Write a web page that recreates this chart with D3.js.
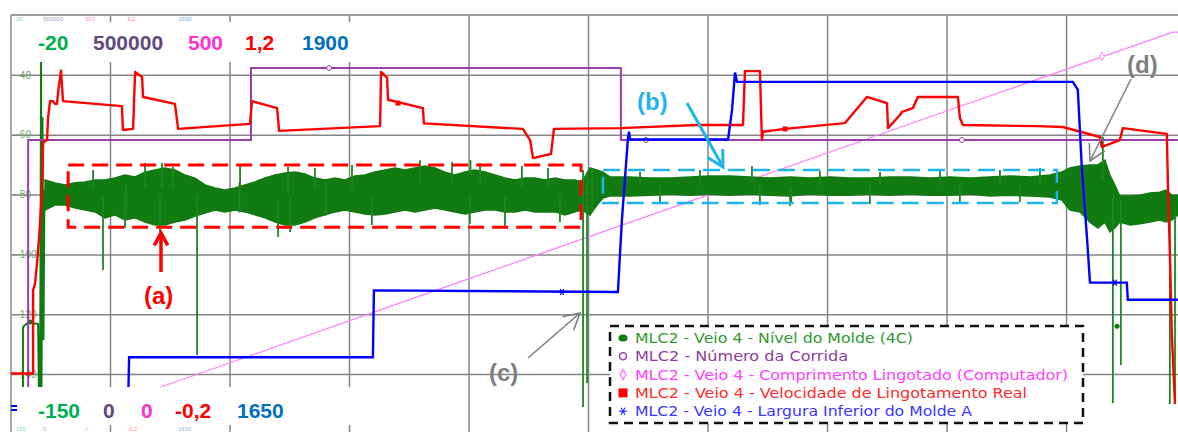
<!DOCTYPE html>
<html>
<head>
<meta charset="utf-8">
<script src="https://cdn.jsdelivr.net/npm/d3@7"></script>
<style>
body { margin: 0; background: #fff; }
svg { display: block; }
</style>
</head>
<body>
<div id="chart"></div>
<script>
// time in minutes, values in each series' own units
const xTicks = [60, 120, 180, 240, 300, 360, 420, 480, 540];
const levelTicks = [-40, -60, -80, -100, -120, -140];

const topLabels = ["-20", "500000", "500", "1,2", "1900"];
const bottomLabels = ["-150", "0", "0", "-0,2", "1650"];

const seriesNames = [
  "MLC2 - Veio 4 - Nível do Molde (4C)",
  "MLC2 - Número da Corrida",
  "MLC2 - Veio 4 - Comprimento Lingotado (Computador)",
  "MLC2 - Veio 4 - Velocidade de Lingotamento Real",
  "MLC2 - Veio 4 - Largura Inferior do Molde A"
];

// Nivel do molde: start trace, noise envelope [t, low, high], spikes [t, from, to]
const levelStart = [[16.3,-150],[16.3,-124.3],[17.9,-123.3],[19.9,-122.6],[21.9,-123],[23.9,-123.3],
  [24.4,-150],[24.9,-150],[25.4,-35.4],[25.6,-150],[26.1,-54.1],[26.6,-128.6],[27.1,-78.5]];
const levelBand = [
  [27.4,-85.2,-75.1],[32.4,-83.5,-76.1],[37.4,-83.5,-76.8],[42.5,-84.5,-76.1],[47.5,-85.2,-75.8],
  [52.5,-85.8,-75.1],[57.5,-87.8,-75.1],[62.5,-86.8,-74.5],[67.5,-88.5,-73.5],[72.6,-87.8,-74.1],
  [77.6,-89.2,-72.5],[82.6,-90.2,-71.8],[87.6,-90.2,-71.1],[92.6,-89.2,-71.8],[97.7,-88.5,-73.5],
  [102.7,-87.2,-74.5],[107.7,-86.2,-76.8],[112.7,-85.2,-77.8],[117.7,-85.8,-78.5],[122.8,-85.2,-77.8],
  [127.8,-85.8,-76.8],[132.8,-86.8,-75.8],[137.8,-87.8,-74.5],[142.9,-89.2,-73.5],[147.9,-90.2,-72.8],
  [152.9,-90.2,-72.5],[157.9,-89.2,-73.1],[162.9,-87.8,-74.5],[168.0,-86.8,-75.1],[173.0,-85.8,-74.5],
  [178.0,-85.2,-75.1],[183.0,-85.8,-73.8],[188.0,-86.5,-73.5],[193.1,-86.8,-72.5],[198.1,-86.5,-71.8],
  [203.1,-85.8,-71.1],[208.1,-85.2,-71.8],[213.1,-85.8,-71.1],[218.2,-85.2,-70.5],[223.2,-84.5,-71.1],
  [228.2,-85.2,-72.5],[233.2,-85.8,-73.5],[238.2,-86.5,-72.5],[243.2,-85.8,-71.8],[248.3,-85.2,-72.5],
  [253.3,-85.2,-73.5],[258.3,-85.8,-74.5],[263.3,-85.8,-75.1],[268.4,-85.2,-74.5],[273.4,-85.8,-74.5],
  [278.4,-85.8,-75.1],[283.4,-85.8,-74.5],[288.4,-86.8,-75.1],[293.5,-85.8,-75.1],[297.0,-85.2,-75.8],
  [301.0,-86.8,-71.1],[304.5,-83.5,-71.8],[307.5,-81.2,-72.5],[311.0,-80.5,-74.1],[321.1,-80.5,-74.1],
  [331.1,-80.2,-74.5],[341.1,-79.8,-74.5],[351.2,-80.2,-74.1],[361.2,-79.8,-73.8],[371.3,-80.2,-73.8],
  [381.3,-79.8,-74.1],[391.3,-80.2,-74.5],[401.4,-80.5,-74.1],[411.4,-79.8,-74.5],[421.5,-80.2,-74.1],
  [431.5,-80.2,-74.5],[441.5,-79.8,-74.5],[451.6,-80.2,-74.1],[461.6,-79.8,-74.1],[471.7,-80.2,-74.5],
  [481.7,-80.2,-74.1],[491.7,-79.8,-74.5],[501.8,-80.5,-74.1],[511.8,-80.2,-73.8],[521.9,-80.5,-74.1],
  [531.9,-80.8,-73.5],[537.9,-81.8,-72.5],[541.9,-85.2,-71.1],[547.0,-85.8,-70.5],[552.0,-89.2,-70.1],
  [556.0,-91.2,-70.1],[559.5,-89.2,-68.5],[562.0,-92.5,-73.5],[564.5,-91.2,-76.8],[567.0,-89.2,-80.5],
  [572.1,-90.2,-80.5],[577.1,-89.8,-80.2],[582.1,-89.2,-79.5],[587.1,-88.5,-79.2],[590.1,-89.2,-78.5],
  [593.1,-88.5,-80.2],[596.2,-86.8,-80.2]
];
const levelSpikes = [
  [56.5,-80,-105.2],[103.7,-80,-133.6],[86.1,-78,-69.5],[91.6,-78,-70.8],[149.4,-80,-70.8],
  [144.4,-82,-94.2],[68.0,-76,-86],[125.0,-76,-86],[168.5,-76,-87],[241.0,-74,-68.5],
  [51.5,-78,-71.8],[77.6,-78,-69.5],[125.3,-78,-70.1],[162.9,-78,-71.1],[181.5,-78,-70.1],
  [215.6,-76,-68.5],[231.7,-76,-69.1],[245.8,-76,-69.5],[266.8,-78,-70.5],[279.9,-78,-71.1],
  [67.5,-80,-91.2],[85.1,-80,-92.5],[150.4,-80,-92.5],[191.5,-80,-90.2],[240.7,-80,-89.8],
  [258.3,-80,-90.5],[285.9,-80,-89.2],
  [297.5,-71.8,-151],[299.5,-72.5,-143],[302.0,-86,-71.1],[382.3,-76,-70.5],[402.0,-78,-82.5],
  [326.1,-77,-72.5],[356.2,-77,-71.8],[416.4,-77,-72.1],[446.6,-77,-72.5],[476.7,-77,-72.1],
  [506.8,-77,-71.8],[526.9,-77,-71.1],[336.1,-77,-82.8],[386.3,-77,-83.5],[401.4,-77,-83.8],
  [441.5,-77,-83.2],[486.7,-77,-83.2],[516.8,-77,-82.5],
  [558.5,-75,-60.8],[563.5,-80,-149.7],[567.5,-82,-137],[591.1,-82,-72.8],[592.1,-85,-150],[594.7,-85,-150]
];
const levelMarkers = [[19.9,-122.6],[565.6,-124]];

// Numero da corrida
const heatNumber = [[18.9,0],[18.9,339300],[130.8,339300],[130.8,431900],[316.5,431900],[316.5,339300],[596.2,339300]];
const heatMarkers = [[170.0,431900],[329.1,339300],[487.7,339300]];

// Comprimento lingotado
const castLength = [[61.0,0],[120,52.7],[240,160.7],[360,268.6],[480,376.6],[593.7,478.1],[596.2,478.1]];
const castMarkers = [[558.0,447]];

// Velocidade de lingotamento
const castSpeed = [[10.3,-0.09],[21.4,-0.09],[21.4,0.21],[22.4,0.235],[23.4,0.31],[24.4,0.40],[25.9,0.57],
  [26.4,0.74],[28.4,0.75],[28.9,0.83],[29.9,0.89],[31.4,0.89],[32.4,0.88],[33.4,0.88],[33.9,0.92],
  [35.4,1.0],[36.4,0.89],[66.0,0.872],[66.5,0.786],[71.6,0.79],[72.6,0.995],[76.1,0.977],[76.6,0.905],
  [92.6,0.88],[94.2,0.79],[130.3,0.808],[131.3,0.89],[143.9,0.865],[144.9,0.783],[195.6,0.80],
  [196.1,0.995],[199.1,0.975],[199.6,0.895],[217.1,0.865],[217.6,0.81],[267.3,0.79],[270.9,0.75],
  [272.4,0.685],[281.4,0.70],[282.9,0.79],[316.0,0.793],[354.7,0.804],[377.8,0.804],[378.8,0.998],
  [386.3,0.998],[387.3,0.75],[387.8,0.78],[398.9,0.79],[429.0,0.811],[440.0,0.905],[450.1,0.883],
  [450.6,0.793],[456.6,0.84],[457.6,0.851],[463.1,0.865],[465.6,0.905],[485.7,0.905],[486.7,0.829],
  [488.2,0.804],[525.4,0.80],[538.4,0.797],[557.0,0.761],[558.0,0.725],[567.0,0.75],[568.5,0.793],
  [590.6,0.772],[591.1,0.60],[592.1,0.35],[593.1,0.05],[594.7,-0.2]];
const speedMarkers = [[204.6,0.883],[398.9,0.79]];

// Largura inferior do molde
const moldWidth = [[69.1,1650],[69.6,1680],[192.0,1680],[192.5,1723],[315.0,1722],[317.0,1768],
  [320.0,1820],[320.6,1825],[321.0,1820],[370.3,1820],[372.3,1839],[373.8,1863],[374.8,1857],
  [543.4,1857],[545.9,1852],[547.9,1802],[550.5,1757],[552.0,1728],[570.5,1728],[571.0,1717],[596.2,1717]];
const widthMarkers = [[286.9,1722],[564.5,1728]];

// layout
const W = 1178, H = 432;
const PLOT = {left: 11, right: 1178, top: 15, bottom: 404};
const GRID = "#858585";
const C_GREEN = "#117a11", C_SPIKE = "#1f861f", C_PURPLE = "#9b3fab", C_PINK = "#ff80ff",
      C_RED = "#ff0000", C_BLUE = "#0000ff";
const labelColors = ["#00b050", "#604a7b", "#ff33cc", "#ff0000", "#0070c0"];
const topLabelX = [38, 93, 188, 245, 302];
const bottomLabelX = [38, 103, 141, 175, 237];
const tinyTopX = [14, 43, 85, 127, 178];
const legendText = ["#2f9a2f", "#8e3c9e", "#ff40ff", "#ff2a2a", "#3838ff"];
const legendWidths = [278, 213, 433, 392, 337];

const x = d3.scaleLinear().domain([10.3, 596.2]).range([PLOT.left, PLOT.right]);
const yLevel = d3.scaleLinear().domain([-150, -20]).range([PLOT.bottom, PLOT.top]);
const yHeat = d3.scaleLinear().domain([0, 500000]).range([PLOT.bottom, PLOT.top]);
const yLen = d3.scaleLinear().domain([0, 500]).range([PLOT.bottom, PLOT.top]);
const ySpeed = d3.scaleLinear().domain([-0.2, 1.2]).range([PLOT.bottom, PLOT.top]);
const yWidth = d3.scaleLinear().domain([1650, 1900]).range([PLOT.bottom, PLOT.top]);

const svg = d3.select("#chart").append("svg")
    .attr("width", W).attr("height", H)
    .style("font-family", "'Liberation Sans', Arial, sans-serif");

svg.append("defs").append("clipPath").attr("id", "plotclip")
  .append("rect").attr("x", PLOT.left).attr("y", PLOT.top)
  .attr("width", PLOT.right - PLOT.left).attr("height", H - PLOT.top);

// grid
svg.append("g").attr("transform", `translate(0,${H})`)
    .call(d3.axisBottom(x).tickValues(xTicks).tickSize(-(H - PLOT.top)).tickFormat(""))
    .call(g => g.select(".domain").remove())
    .call(g => g.selectAll("line").attr("stroke", GRID).attr("stroke-width", 1.5));
svg.append("g").attr("transform", `translate(${PLOT.left},0)`)
    .call(d3.axisLeft(yLevel).tickValues(levelTicks).tickSize(-(PLOT.right - PLOT.left)).tickFormat(""))
    .call(g => g.select(".domain").remove())
    .call(g => g.selectAll("line").attr("stroke", GRID).attr("stroke-width", 1.5));
svg.append("g").attr("transform", `translate(${PLOT.left},0)`)
    .call(d3.axisRight(yLevel).tickValues(levelTicks).tickSize(3).tickPadding(0))
    .call(g => g.select(".domain").remove())
    .call(g => g.selectAll("line").attr("stroke", "#5a9e5a"))
    .call(g => g.selectAll("text").attr("fill", "#6aa86a").style("font-size", "10px"));

// frame
svg.append("line").attr("x1", PLOT.left).attr("x2", PLOT.right).attr("y1", PLOT.top).attr("y2", PLOT.top)
    .attr("stroke", "#9a9a9a").attr("stroke-width", 2);
svg.append("line").attr("x1", PLOT.left).attr("x2", PLOT.left).attr("y1", PLOT.top).attr("y2", H)
    .attr("stroke", "#a8a8a8").attr("stroke-width", 2);

const plot = svg.append("g").attr("clip-path", "url(#plotclip)");
const lineOf = ys => d3.line().x(d => x(d[0])).y(d => ys(d[1]));

// pink - cast length
plot.append("path").datum(castLength).attr("d", lineOf(yLen))
    .attr("fill", "none").attr("stroke", C_PINK).attr("stroke-width", 1.3);

// green - mold level
plot.append("path").datum(levelBand)
    .attr("d", d3.area().x(d => x(d[0])).y0(d => yLevel(d[1])).y1(d => yLevel(d[2])))
    .attr("fill", C_GREEN).attr("stroke", C_GREEN).attr("stroke-width", 1.5);
plot.append("path").datum(levelStart).attr("d", lineOf(yLevel))
    .attr("fill", "none").attr("stroke", C_GREEN).attr("stroke-width", 2);
plot.selectAll(".spike").data(levelSpikes).enter().append("line")
    .attr("x1", d => x(d[0])).attr("x2", d => x(d[0]))
    .attr("y1", d => yLevel(d[1])).attr("y2", d => yLevel(d[2]))
    .attr("stroke", C_SPIKE).attr("stroke-width", 1.8);
plot.selectAll(".lvm").data(levelMarkers).enter().append("circle")
    .attr("cx", d => x(d[0])).attr("cy", d => yLevel(d[1])).attr("r", 2.5).attr("fill", C_GREEN);

// purple - heat number
plot.append("path").datum(heatNumber).attr("d", lineOf(yHeat))
    .attr("fill", "none").attr("stroke", C_PURPLE).attr("stroke-width", 2);
plot.selectAll(".hm").data(heatMarkers).enter().append("circle")
    .attr("cx", d => x(d[0])).attr("cy", d => yHeat(d[1])).attr("r", 2.5)
    .attr("fill", "#fff").attr("stroke", C_PURPLE).attr("stroke-width", 1);
plot.selectAll(".cm").data(castMarkers).enter().append("path")
    .attr("transform", d => `translate(${x(d[0])},${yLen(d[1])})`)
    .attr("d", d3.symbol(d3.symbolDiamond, 20)).attr("fill", "#fff").attr("stroke", C_PINK);

// red - casting speed
plot.append("path").datum(castSpeed).attr("d", lineOf(ySpeed))
    .attr("fill", "none").attr("stroke", C_RED).attr("stroke-width", 2.4).attr("stroke-linejoin", "round");
plot.selectAll(".sm").data(speedMarkers).enter().append("rect")
    .attr("x", d => x(d[0]) - 2.5).attr("y", d => ySpeed(d[1]) - 2.5)
    .attr("width", 5).attr("height", 5).attr("fill", C_RED);

// blue - mold width
plot.append("path").datum(moldWidth).attr("d", lineOf(yWidth))
    .attr("fill", "none").attr("stroke", C_BLUE).attr("stroke-width", 2.4);
function asterisk(g, cx, cy, r, color) {
  [0, 60, 120].forEach(a => {
    const dx = r * Math.cos(a * Math.PI / 180), dy = r * Math.sin(a * Math.PI / 180);
    g.append("line").attr("x1", cx - dx).attr("x2", cx + dx).attr("y1", cy - dy).attr("y2", cy + dy)
      .attr("stroke", color).attr("stroke-width", 1.2);
  });
}
widthMarkers.forEach(d => asterisk(plot, x(d[0]), yWidth(d[1]), 3.5, C_BLUE));

// scale label boxes (small original labels peek out at the edges)
const tinyTop = svg.append("g").style("font-size", "6px").attr("opacity", 0.55);
topLabels.forEach((t, i) => tinyTop.append("text").attr("x", tinyTopX[i]).attr("y", 21).attr("fill", labelColors[i]).text(t));
const tinyBottom = svg.append("g").style("font-size", "6px").attr("opacity", 0.45);
bottomLabels.forEach((t, i) => tinyBottom.append("text").attr("x", tinyTopX[i]).attr("y", 431).attr("fill", labelColors[i]).text(t));

svg.append("rect").attr("x", 14).attr("y", 22).attr("width", 342).attr("height", 40).attr("fill", "#fff");
svg.append("rect").attr("x", 17).attr("y", 387).attr("width", 339).attr("height", 38).attr("fill", "#fff");
svg.append("rect").attr("x", 11).attr("y", 405).attr("width", 6).attr("height", 2).attr("fill", C_BLUE);
svg.append("rect").attr("x", 11).attr("y", 409).attr("width", 6).attr("height", 2).attr("fill", C_BLUE);

topLabels.forEach((t, i) => svg.append("text").attr("x", topLabelX[i]).attr("y", 50)
    .attr("fill", labelColors[i]).style("font-size", "21px").style("font-weight", "bold").text(t));
bottomLabels.forEach((t, i) => svg.append("text").attr("x", bottomLabelX[i]).attr("y", 418)
    .attr("fill", labelColors[i]).style("font-size", "21px").style("font-weight", "bold").text(t));

// annotations
const ann = svg.append("g");
function dashedBox(t0, t1, v0, v1, color, w, dash) {
  ann.append("rect").attr("x", x(t0)).attr("y", yLevel(v1))
    .attr("width", x(t1) - x(t0)).attr("height", yLevel(v0) - yLevel(v1))
    .attr("fill", "none").attr("stroke", color).attr("stroke-width", w).attr("stroke-dasharray", dash);
}
dashedBox(39.0, 296.5, -90.9, -70.1, "#ff0000", 3, "16,8");
dashedBox(307.5, 535.4, -82.8, -71.8, "#1fb4ea", 2.5, "17,8");

function arrow(x1, y1, x2, y2, len, color, w) {
  const a = Math.atan2(y1 - y2, x1 - x2);
  ann.append("line").attr("x1", x1).attr("y1", y1).attr("x2", x2).attr("y2", y2)
    .attr("stroke", color).attr("stroke-width", w);
  const p = [a - 0.5, a + 0.5].map(b => [x2 + len * Math.cos(b), y2 + len * Math.sin(b)]);
  ann.append("path").attr("d", `M${p[0]}L${x2},${y2}L${p[1]}`)
    .attr("fill", "none").attr("stroke", color).attr("stroke-width", w).attr("stroke-linejoin", "miter");
}
arrow(161, 272, 161, 233, 14, "#ff0000", 3.5);
arrow(687, 103, 723, 167, 18, "#1fb4ea", 3);
arrow(528, 358, 580, 313, 18, "#7f7f7f", 1.6);
arrow(1131, 79, 1090, 161, 18, "#7f7f7f", 1.6);

const annText = (tx, ty, t, color) => ann.append("text").attr("x", tx).attr("y", ty).text(t)
    .attr("fill", color).style("font-size", "24px").style("font-weight", "bold");
annText(144, 304, "(a)", "#ff0000");
annText(637, 110, "(b)", "#1fb4ea");
annText(489, 381, "(c)", "#7f7f7f");
annText(1127, 73, "(d)", "#7f7f7f");

// legend
const lg = svg.append("g");
lg.append("rect").attr("x", 610).attr("y", 326).attr("width", 473).attr("height", 97)
    .attr("fill", "#fff").attr("stroke", "#111").attr("stroke-width", 2.5).attr("stroke-dasharray", "9,6");
seriesNames.forEach((name, i) => {
  const cy = 338 + i * 18.3;
  lg.append("text").attr("x", 635).attr("y", cy + 5).attr("fill", legendText[i])
    .style("font-family", "'DejaVu Sans', Verdana, sans-serif").style("font-size", "14px")
    .attr("textLength", legendWidths[i]).attr("lengthAdjust", "spacingAndGlyphs").text(name);
});
const mx = 623;
lg.append("ellipse").attr("cx", mx).attr("cy", 338).attr("rx", 4.5).attr("ry", 3.5).attr("fill", C_GREEN);
lg.append("circle").attr("cx", mx).attr("cy", 356.3).attr("r", 3.5).attr("fill", "none").attr("stroke", C_PURPLE).attr("stroke-width", 1.5);
lg.append("path").attr("transform", `translate(${mx},374.6)`).attr("d", d3.symbol(d3.symbolDiamond, 30))
    .attr("fill", "none").attr("stroke", C_PINK).attr("stroke-width", 1.5);
lg.append("rect").attr("x", mx - 4.5).attr("y", 388.4).attr("width", 9).attr("height", 9).attr("fill", C_RED);
asterisk(lg, mx, 411.2, 4, "#3030ff");
</script>
</body>
</html>
